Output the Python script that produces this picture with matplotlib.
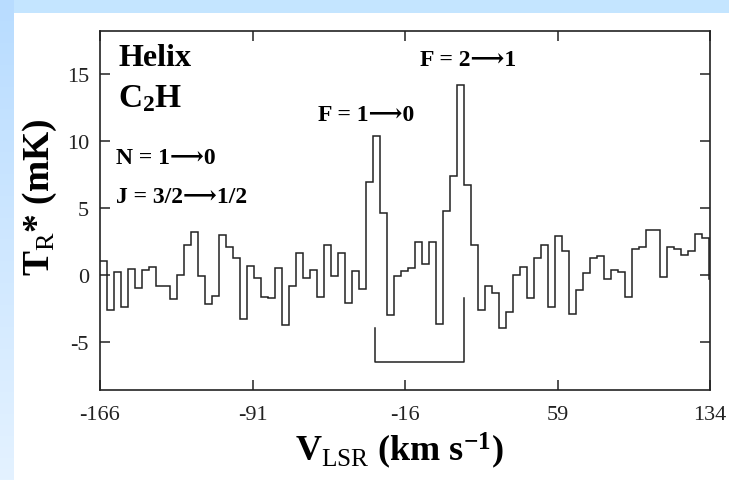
import numpy as np
import matplotlib
matplotlib.use('Agg')
import matplotlib.pyplot as plt
from matplotlib.patches import Rectangle
from matplotlib.colors import to_rgb

###############################################################################################
# Data (mK per 1 MHz channel)

v_start = -166.0      # km/s, left edge of first channel
chan_width = 3.44     # km/s

t_mk = [
    1.0, -2.6, 0.2, -2.4, 0.45, -0.95, 0.37, 0.6, -0.87, -0.8,
    -1.8, 0.0, 2.2, 3.2, -0.1, -2.2, -1.6, 3.0, 2.07, 1.24,
    -3.33, 0.62, -0.25, -1.64, -1.74, 0.52, -3.73, -0.85, 1.59, -0.25,
    0.37, -1.64, 2.26, -0.12, 1.66, -2.1, 0.27, -1.04, 6.92, 10.35,
    4.63, -3.03, -0.1, 0.32, 0.52, 2.44, 0.82, 2.44, -3.7, 4.73,
    7.36, 14.18, 6.74, 2.24, -2.66, -0.8, -1.37, -3.96, -2.79, 0.0,
    0.55, -1.74, 1.24, 2.26, -2.41, 2.86, 1.74, -2.94, -1.12, 0.12,
    1.24, 1.39, -0.35, 0.37, 0.2, -1.67, 1.94, 2.11, 3.38, 3.38,
    -0.17, 2.07, 1.89, 1.49, 1.74, 3.06, 2.76, -0.3,
]

# Hyperfine components marker (F=1->0, F=2->1)
hf_vel = [-30.7, 13.0]
hf_top = [-4.0, -1.74]
hf_base = -6.5

xticks = [-166, -91, -16, 59, 134]
yticks = [-5, 0, 5, 10, 15]

###############################################################################################
# Style

plt.rcParams['font.family'] = ['Liberation Serif', 'DejaVu Serif']
plt.rcParams['mathtext.fontset'] = 'custom'
plt.rcParams['mathtext.rm'] = 'Liberation Serif'
plt.rcParams['mathtext.it'] = 'Liberation Serif:italic'
plt.rcParams['mathtext.bf'] = 'Liberation Serif:bold'
plt.rcParams['axes.unicode_minus'] = False

W, H = 729, 481
fig = plt.figure(figsize=(W / 100, H / 100), dpi=100)
fig.patch.set_facecolor('#c4e5ff')
fig.patches.append(Rectangle((14 / W, 0), 1, 1 - 14 / H, transform=fig.transFigure,
                             facecolor='white', edgecolor='none', zorder=-10))

# Left border strip fading to lighter blue at the bottom
c_top, c_bot = np.array(to_rgb('#b8dcff')), np.array(to_rgb('#e4f2ff'))
f = np.linspace(0, 1, H)[:, None, None]
strip = c_bot * (1 - f) + c_top * f
strip = np.repeat(strip, 14, axis=1)
fig.figimage(strip, xo=0, yo=0, origin='lower', zorder=-5)

ax = fig.add_axes([100 / W, 90 / H, 610 / W, 359 / H])
ax.set_facecolor('white')

# Spectrum
edges = v_start + chan_width * np.arange(len(t_mk) + 1)
ax.stairs(t_mk, edges, baseline=None, color='#222222', linewidth=1.1)

# Hyperfine bracket
ax.plot([hf_vel[0], hf_vel[0], hf_vel[1], hf_vel[1]],
        [hf_top[0], hf_base, hf_base, hf_top[1]], color='#222222', linewidth=1.1)

ax.set_xlim(-166, 134)
ax.set_ylim(-8.6, 18.2)
ax.set_xticks(xticks)
ax.set_xticklabels([str(t) for t in xticks])
ax.set_yticks(yticks)
ax.set_yticklabels([str(t) for t in yticks])
ax.tick_params(direction='in', length=7, width=1.1, labelsize=16,
               top=True, right=True, colors='#222222')
ax.tick_params(axis='x', pad=11)
ax.tick_params(axis='y', pad=8)
for s in ax.spines.values():
    s.set_linewidth(1.2)
    s.set_color('#222222')

# Labels
ax.set_ylabel(r'$\mathbf{T}_{\mathrm{R}}$* (mK)', fontsize=27, fontweight='bold')
ax.yaxis.set_label_coords(-0.068, 0.54)
ax.set_xlabel(r'V$_{\mathrm{LSR}}$ (km s$^{\mathbf{-1}}$)', fontsize=26, fontweight='bold')
ax.xaxis.set_label_coords(0.49, -0.11)

# Annotations
ax.text(0.03, 0.905, 'Helix', transform=ax.transAxes, fontsize=23, fontweight='bold')
ax.text(0.03, 0.79, r'C$_{\mathbf{2}}$H', transform=ax.transAxes, fontsize=24, fontweight='bold')
ax.text(0.026, 0.632, 'N = 1\u27f60', transform=ax.transAxes, fontsize=17, fontweight='bold')
ax.text(0.026, 0.524, 'J = 3/2\u27f61/2', transform=ax.transAxes, fontsize=17, fontweight='bold')
ax.text(0.357, 0.752, 'F = 1\u27f60', transform=ax.transAxes, fontsize=17, fontweight='bold')
ax.text(0.525, 0.905, 'F = 2\u27f61', transform=ax.transAxes, fontsize=17, fontweight='bold')

fig.savefig('out.png', dpi=100, facecolor=fig.get_facecolor())
